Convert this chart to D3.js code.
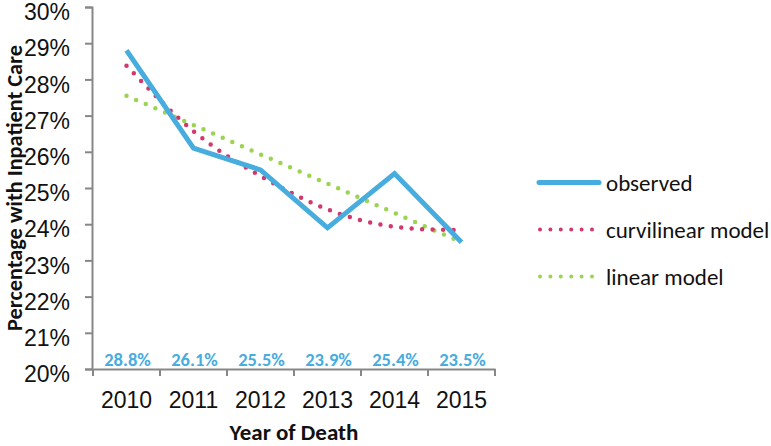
<!DOCTYPE html>
<html>
<head>
<meta charset="utf-8">
<script src="https://cdn.jsdelivr.net/npm/d3@7"></script>
<style>
  html, body { margin: 0; padding: 0; background: #fff; }
  svg { display: block; font-family: Carlito, Lato, "Open Sans", sans-serif; }
</style>
</head>
<body>
<svg id="chart" width="771" height="446"></svg>
<script>
const years = ["2010", "2011", "2012", "2013", "2014", "2015"];
const observed = [28.8, 26.1, 25.5, 23.9, 25.4, 23.5];
const curvilinear = [28.38, 26.57, 25.33, 24.41, 23.93, 23.84];
const linearModel = [27.55, 26.74, 25.93, 25.12, 24.31, 23.5];
const observedLabels = ["28.8%", "26.1%", "25.5%", "23.9%", "25.4%", "23.5%"];
const yTicks = [20, 21, 22, 23, 24, 25, 26, 27, 28, 29, 30];
const seriesNames = ["observed", "curvilinear model", "linear model"];

const svg = d3.select("#chart");
const colors = { blue: "#47ACDE", red: "#D2386C", green: "#9BD451", axis: "#878787" };

const x = d3.scaleBand().domain(years).range([93, 495]).padding(0);
const y = d3.scaleLinear().domain([20, 30]).range([369, 7]);
const cx = d => x(d) + x.bandwidth() / 2;

// Y axis
const yAxis = svg.append("g").attr("transform", "translate(92,0)")
  .call(d3.axisLeft(y).tickValues(yTicks).tickSize(7).tickPadding(15).tickFormat(d => d + "%"));
yAxis.select(".domain").attr("stroke", colors.axis).attr("stroke-width", 2);
yAxis.selectAll(".tick line").attr("stroke", colors.axis).attr("stroke-width", 2);
yAxis.selectAll(".tick text").attr("font-size", 23).attr("fill", "#111").attr("font-family", null)
  .attr("dy", "0.55em");

// X axis
const xAxis = svg.append("g").attr("transform", "translate(0,369)")
  .call(d3.axisBottom(x).tickSize(0).tickPadding(23));
xAxis.select(".domain").attr("stroke", colors.axis).attr("stroke-width", 2);
xAxis.selectAll(".tick text").attr("font-size", 23).attr("fill", "#111").attr("font-family", null);
const boundaries = years.map(d => x(d)).concat([x(years[years.length - 1]) + x.bandwidth()]);
xAxis.selectAll(".bound").data(boundaries).enter().append("line")
  .attr("x1", d => d).attr("x2", d => d).attr("y1", 0).attr("y2", 7)
  .attr("stroke", colors.axis).attr("stroke-width", 2);

// Axis titles
svg.append("text").attr("x", 294).attr("y", 440).attr("text-anchor", "middle")
  .attr("font-size", 23).attr("font-weight", "bold").attr("fill", "#111").text("Year of Death");
svg.append("text").attr("transform", "translate(21.5,188) rotate(-90)").attr("text-anchor", "middle")
  .attr("font-size", 22.3).attr("font-weight", "bold").attr("fill", "#111").text("Percentage with Inpatient Care");

// Lines
const line = d3.line().x((d, i) => cx(years[i])).y(d => y(d));
const curve = d3.line().x((d, i) => cx(years[i])).y(d => y(d)).curve(d3.curveNatural);

svg.append("path").datum(linearModel).attr("d", line).attr("fill", "none")
  .attr("stroke", colors.green).attr("stroke-width", 4.5).attr("stroke-linecap", "round")
  .attr("stroke-dasharray", "0 10.5");
svg.append("path").datum(curvilinear).attr("d", curve).attr("fill", "none")
  .attr("stroke", colors.red).attr("stroke-width", 4.5).attr("stroke-linecap", "round")
  .attr("stroke-dasharray", "0 10.5");
svg.append("path").datum(observed).attr("d", line).attr("fill", "none")
  .attr("stroke", colors.blue).attr("stroke-width", 5).attr("stroke-linejoin", "miter");

// Data labels
svg.selectAll(".dlabel").data(observedLabels).enter().append("text")
  .attr("x", (d, i) => cx(years[i]) + 1).attr("y", 366)
  .attr("text-anchor", "middle").attr("font-size", 18.5).attr("font-weight", "bold")
  .attr("fill", colors.blue).text(d => d);

// Legend
const legY = [182.5, 229.5, 276.5];
const leg = svg.append("g");
leg.append("line").attr("x1", 539).attr("x2", 599).attr("y1", legY[0]).attr("y2", legY[0])
  .attr("stroke", colors.blue).attr("stroke-width", 5).attr("stroke-linecap", "round");
[[colors.red, legY[1]], [colors.green, legY[2]]].forEach(([c, yy]) => {
  leg.append("line").attr("x1", 540).attr("x2", 593).attr("y1", yy).attr("y2", yy)
    .attr("stroke", c).attr("stroke-width", 4).attr("stroke-linecap", "round")
    .attr("stroke-dasharray", "0 10.4");
});
leg.selectAll(".ltext").data(seriesNames).enter().append("text")
  .attr("x", 606).attr("y", (d, i) => legY[i]).attr("dy", "0.35em")
  .attr("font-size", 23).attr("fill", "#111").text(d => d);
</script>
</body>
</html>
